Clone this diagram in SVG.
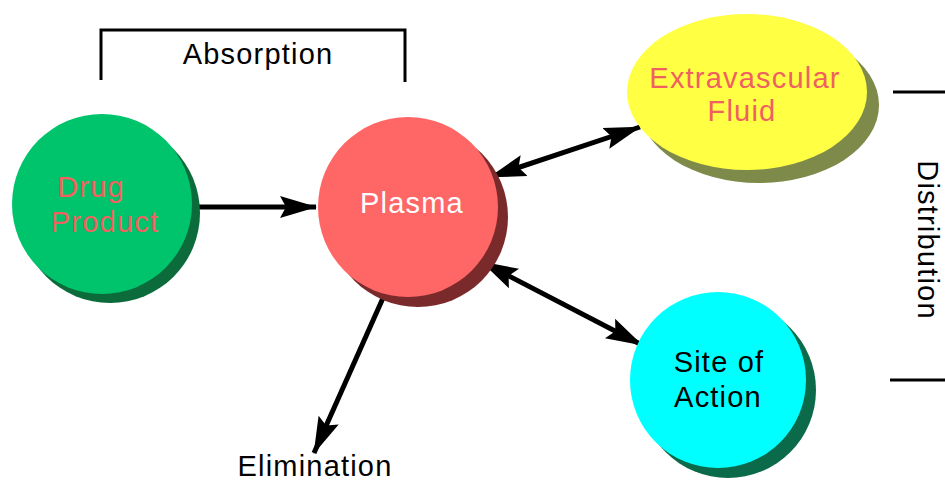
<svg xmlns="http://www.w3.org/2000/svg" width="945" height="483" viewBox="0 0 945 483">
<style>
text{font-family:"Liberation Sans",Arial,sans-serif;font-size:29px;text-anchor:middle;letter-spacing:1.2px}
.lbl{fill:#000}
.red{fill:#f06060}
.conn{stroke:#000;stroke-width:5;fill:none}
.br{stroke:#000;stroke-width:3;fill:none}
</style>
<defs>
<marker id="ah" markerUnits="userSpaceOnUse" markerWidth="40" markerHeight="26" refX="36" refY="13" orient="auto-start-reverse">
<path d="M0,2 L37,13 L0,24 L6,13 Z" fill="#000"/>
</marker>
</defs>
<rect width="945" height="483" fill="#fff"/>
<g id="absorption">
<path class="br" d="M101,80 V30 H405 V82"/>
<text x="258" y="64" class="lbl">Absorption</text>
</g>
<g id="distribution">
<line class="br" x1="893" y1="92" x2="945" y2="92"/>
<line class="br" x1="890" y1="380" x2="945" y2="380"/>
<text class="lbl" transform="translate(918,240) rotate(90)">Distribution</text>
</g>
<g id="connectors">
<line class="conn" x1="193" y1="207" x2="316" y2="207" marker-end="url(#ah)"/>
<line class="conn" x1="490" y1="177" x2="640" y2="127" marker-start="url(#ah)" marker-end="url(#ah)"/>
<line class="conn" x1="482" y1="262" x2="642" y2="345" marker-start="url(#ah)" marker-end="url(#ah)"/>
<line class="conn" x1="383" y1="298" x2="314" y2="453" marker-end="url(#ah)"/>
</g>
<g id="drug-product">
<circle cx="110" cy="213" r="90" fill="#0b6b3a"/>
<circle cx="102" cy="204" r="90" fill="#00c46c"/>
<text x="91" y="197" class="red">Drug</text>
<text x="105" y="232" class="red">Product</text>
</g>
<g id="plasma">
<circle cx="418" cy="217" r="90" fill="#7a2a2a"/>
<circle cx="408" cy="207" r="90" fill="#ff6666"/>
<text x="412" y="213" fill="#fff">Plasma</text>
</g>
<g id="extravascular">
<ellipse cx="759" cy="105" rx="120" ry="78" fill="#7d8a4a"/>
<ellipse cx="747" cy="92" rx="120" ry="78" fill="#ffff44"/>
<text x="745" y="88" class="red">Extravascular</text>
<text x="742" y="121" class="red">Fluid</text>
</g>
<g id="site-of-action">
<circle cx="728" cy="390" r="88" fill="#0a6a4a"/>
<circle cx="718" cy="380" r="88" fill="#00ffff"/>
<text x="719" y="372" class="lbl">Site of</text>
<text x="718" y="407" class="lbl">Action</text>
</g>
<g id="elimination">
<text x="315" y="476" class="lbl" font-size="28">Elimination</text>
</g>
</svg>
